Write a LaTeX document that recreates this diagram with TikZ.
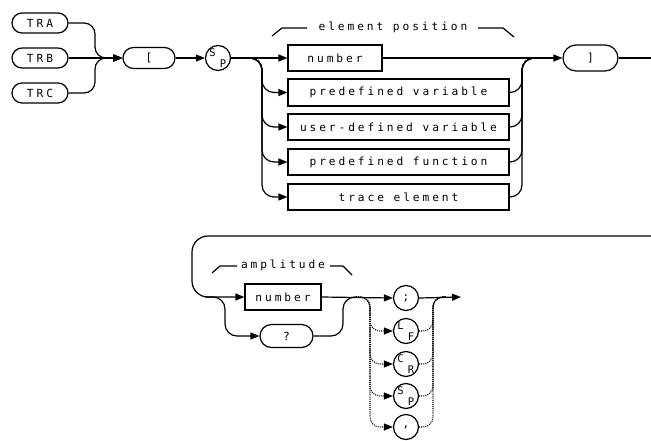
\documentclass[tikz,border=0pt]{standalone}
\usepackage{fontspec}
\newfontfamily\hp[LetterSpace=26]{DejaVu Sans Mono}
\newfontfamily\hpn{DejaVu Sans Mono}
\usetikzlibrary{arrows.meta}
\begin{document}
\begin{tikzpicture}[x=1pt,y=-1pt,
  ln/.style={line width=1.2pt},
  arr/.style={ln,-{Triangle[length=9pt,width=7pt]}},
  dotl/.style={line width=1.1pt,dash pattern=on 1pt off 1.1pt},
  dotarr/.style={dotl,-{Triangle[length=9pt,width=7pt]}},
  txt/.style={font=\hp\fontsize{11.2}{11}\selectfont},
  pill/.style={draw,line width=1.2pt,inner sep=0pt,txt},
  sbox/.style={draw,line width=1.2pt,inner sep=0pt,minimum height=26pt,txt},
  circ/.style={draw,circle,line width=1.2pt,minimum size=25pt,inner sep=0pt},
  sub/.style={font=\hpn\fontsize{10.5}{10}\selectfont,inner sep=0pt}]
\useasboundingbox (0,0) rectangle (651,440);

% row 1
\node[pill,rounded corners=10pt,minimum width=56pt,minimum height=20pt] (tra) at (40,23) {TRA};
\node[pill,rounded corners=10pt,minimum width=56pt,minimum height=20pt] (trb) at (40,58) {TRB};
\node[pill,rounded corners=10pt,minimum width=56pt,minimum height=20pt] (trc) at (40,93) {TRC};
\node[pill,rounded corners=10.5pt,minimum width=52pt,minimum height=21pt] (lb) at (149,58) {[};
\node[circ] (sp1) at (218,58) {};
\node[sub] (sp1s) at (212.5,52.5) {S};
\node[sub] (sp1p) at (223,64) {P};
\node[sbox,minimum width=94pt] (num1) at (335,58) {number};
\node[sbox,minimum width=221pt,minimum height=27pt] (pv) at (398.5,92.5) {predefined variable};
\node[sbox,minimum width=221pt] (ud) at (398.5,127) {user-defined variable};
\node[sbox,minimum width=221pt] (pf) at (398.5,162) {predefined function};
\node[sbox,minimum width=221pt] (te) at (398.5,197) {trace element};
\node[pill,rounded corners=13pt,minimum width=55pt,minimum height=26pt] (rb) at (590.5,58) {]};
\coordinate (edge1) at (651,58);

\draw[arr,rounded corners=11pt] (tra.east) -- (95,23) -- (95,58) -- (lb.west);
\draw[arr] (trb.east) -- (lb.west);
\draw[arr,rounded corners=11pt] (trc.east) -- (95,93) -- (95,58) -- (lb.west);
\draw[arr] (lb.east) -- (sp1.west);
\draw[arr] (sp1.east) -- (num1.west);
\foreach \b in {pv,ud,pf,te}{
  \draw[arr,rounded corners=12pt] (sp1.east) -- (262,58) |- (\b.west);
  \draw[ln,rounded corners=12pt] (\b.east) -| (522,58) -- (540,58);
}
\draw[arr] (num1.east) -- (rb.west);
\draw[ln] (rb.east) -- (edge1);

% element position label
\node[txt] (lab1) at (393,27) {element position};
\draw[ln] (272,36) -- (282,28) -- (307,28);
\draw[ln] (478,28) -- (503,28) -- (514,37);

% row 2
\coordinate (edge2) at (651,236);
\node[sbox,minimum width=76pt] (num2) at (283,297) {number};
\node[pill,rounded corners=11.5pt,minimum width=53pt,minimum height=23pt] (q) at (286.5,336) {?};
\node[circ] (c1) at (406,298) {};
\node[sub,font=\hpn\fontsize{11}{11}\selectfont] (c1t) at (406,298) {;};
\node[circ] (c2) at (406,331) {};
\node[sub] (c2a) at (400.5,325.5) {L};
\node[sub] (c2b) at (411,337) {F};
\node[circ] (c3) at (406,364) {};
\node[sub] (c3a) at (400.5,358.5) {C};
\node[sub] (c3b) at (411,370) {R};
\node[circ] (c4) at (406,396) {};
\node[sub] (c4a) at (400.5,390.5) {S};
\node[sub] (c4b) at (411,402) {P};
\node[circ] (c5) at (406,427) {};
\node[sub,font=\hpn\fontsize{11}{11}\selectfont] (c5t) at (406,427) {,};
\coordinate (fin) at (461,297);

\draw[arr,rounded corners=16pt] (edge2) -- (192,236) |- (num2.west);
\draw[arr,rounded corners=12pt] (205,297) -- (225,297) |- (q.west);
\draw[ln,rounded corners=12pt] (q.east) -| (343,297) -- (356,297);
\draw[arr] (num2.east) -- (c1.west);
\foreach \c in {c2,c3,c4,c5}{
  \draw[dotarr,rounded corners=10pt] (356,297) -- (370,297) |- (\c.west);
  \draw[dotl,rounded corners=10pt] (\c.east) -| (433,297) -- (446,297);
}
\draw[arr] (c1.east) -- (fin);

% amplitude label
\node[txt] (lab2) at (283,265) {amplitude};
\draw[ln] (212,273) -- (220,266) -- (237,266);
\draw[ln] (330,266) -- (343,266) -- (352,275);
\end{tikzpicture}
\end{document}
